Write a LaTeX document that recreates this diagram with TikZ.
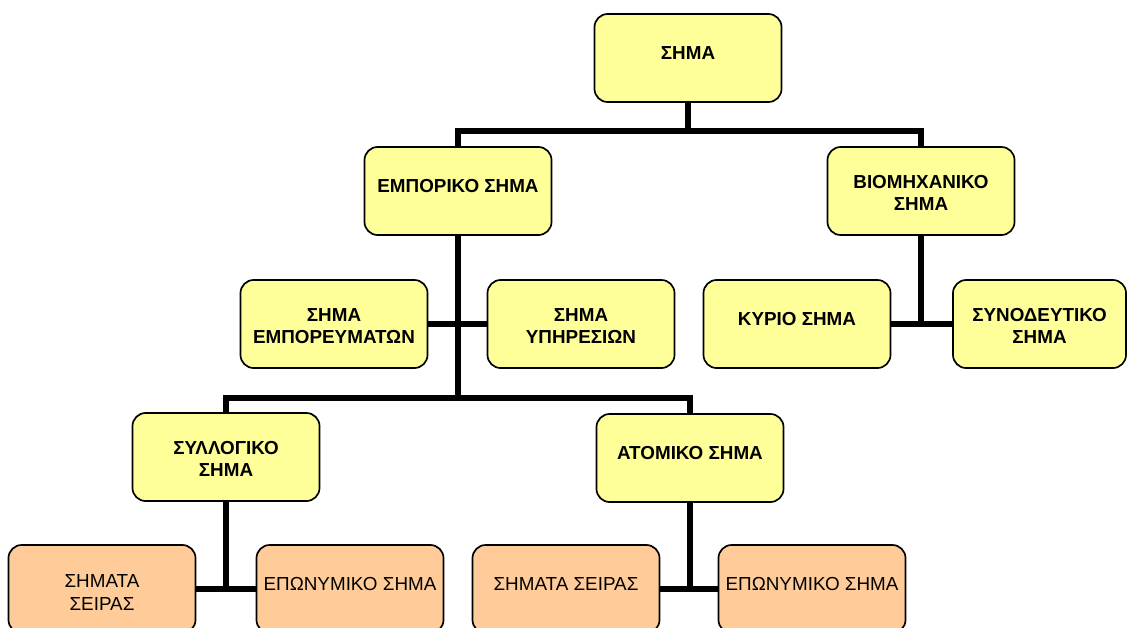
\documentclass[tikz,border=0pt]{standalone}
\usepackage{fontspec}
\setmainfont{Liberation Sans}
\usepackage{xcolor}
\definecolor{vyellow}{HTML}{FFFF99}
\definecolor{vorange}{HTML}{FFCC99}
\definecolor{vblack}{HTML}{000000}

\begin{document}
\begin{tikzpicture}[x=0.025cm, y=-0.025cm,
		box/.style={draw=vblack, line width=1.2pt, rounded corners=0.33cm, minimum width=4.675cm, minimum height=2.2cm, align=center, inner sep=2pt, font=\fontsize{13.4pt}{16pt}\selectfont},
		ybox/.style={box, fill=vyellow, font=\fontsize{13.4pt}{16pt}\selectfont\bfseries},
		obox/.style={box, fill=vorange},
		oneline/.style={text height=9.5pt, text depth=7pt},
		twoline/.style={text height=28pt, text depth=0pt},
		conn/.style={draw=vblack, line width=3.6pt}]
		\useasboundingbox (0,0) rectangle (1128,627);
		\clip (0,0) rectangle (1128,627);
		\node[ybox, oneline] (sima) at (688,58) {ΣΗΜΑ};
		\node[ybox, oneline] (emporiko) at (458,191) {ΕΜΠΟΡΙΚΟ ΣΗΜΑ};
		\node[ybox, twoline] (viomix) at (921,191) {ΒΙΟΜΗΧΑΝΙΚΟ\\ΣΗΜΑ};
		\node[ybox, twoline] (emporeum) at (334,324) {ΣΗΜΑ\\ΕΜΠΟΡΕΥΜΑΤΩΝ};
		\node[ybox, twoline] (ypires) at (581,324) {ΣΗΜΑ\\ΥΠΗΡΕΣΙΩΝ};
		\node[ybox, oneline] (kyrio) at (797,324) {ΚΥΡΙΟ ΣΗΜΑ};
		\node[ybox, twoline, minimum width=4.325cm] (synod) at (1039.5,324) {ΣΥΝΟΔΕΥΤΙΚΟ\\ΣΗΜΑ};
		\node[ybox, twoline] (syllog) at (226,457) {ΣΥΛΛΟΓΙΚΟ\\ΣΗΜΑ};
		\node[ybox, oneline] (atomiko) at (690,458) {ΑΤΟΜΙΚΟ ΣΗΜΑ};
		\node[obox, twoline, text height=30pt] (seiras1) at (102,589) {ΣΗΜΑΤΑ\\ΣΕΙΡΑΣ};
		\node[obox, oneline] (eponym1) at (350,589) {ΕΠΩΝΥΜΙΚΟ ΣΗΜΑ};
		\node[obox, oneline] (seiras2) at (566,589) {ΣΗΜΑΤΑ ΣΕΙΡΑΣ};
		\node[obox, oneline] (eponym2) at (812,589) {ΕΠΩΝΥΜΙΚΟ ΣΗΜΑ};
		\coordinate (bus1) at (688,131);
		\coordinate (bus2) at (458,398);
		\draw[conn] (sima.south) -- (bus1);
		\draw[conn] (emporiko.north) |- (bus1) -| (viomix.north);
		\draw[conn] (emporiko.south) -- (bus2);
		\draw[conn] (syllog.north) |- (bus2) -| (atomiko.north);
		\draw[conn] (emporeum) -- (ypires);
		\draw[conn] (viomix.south) -- (viomix.south |- kyrio.east);
		\draw[conn] (kyrio) -- (synod);
		\draw[conn] (syllog.south) -- (syllog.south |- seiras1.east);
		\draw[conn] (seiras1) -- (eponym1);
		\draw[conn] (atomiko.south) -- (atomiko.south |- seiras2.east);
		\draw[conn] (seiras2) -- (eponym2);
	\end{tikzpicture}
\end{document}
